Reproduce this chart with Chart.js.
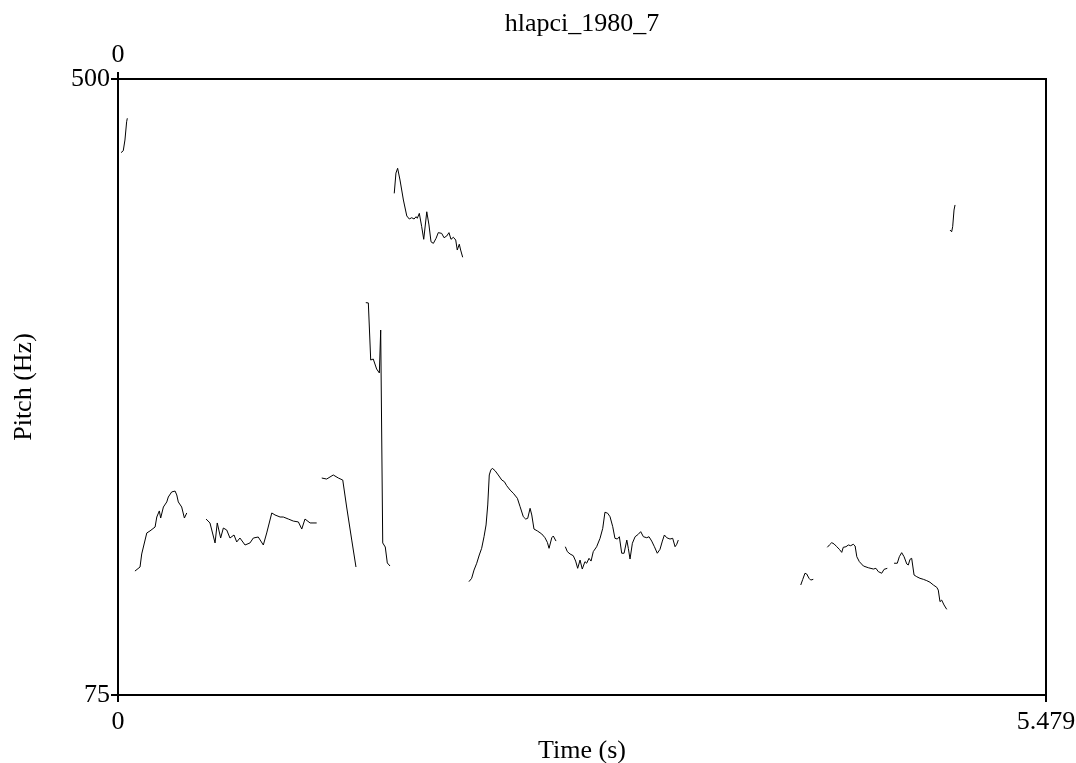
<!DOCTYPE html>
<html>
<head>
<meta charset="utf-8">
<script src="https://cdn.jsdelivr.net/npm/chart.js@4/dist/chart.umd.min.js"></script>
<style>
  html, body { margin: 0; padding: 0; background: #ffffff; overflow: hidden; }
  #wrap { width: 1076px; height: 763px; }
</style>
</head>
<body>
<div id="wrap"><canvas id="pitch" width="1076" height="763"></canvas></div>
<script>
// Labels and axis ranges
const plotTitle = 'hlapci_1980_7';
const xTitle = 'Time (s)';
const yTitle = 'Pitch (Hz)';
const timeRange = [0, 5.479];
const pitchRange = [75, 500];
const xTickValues = [0, 5.479];
const xTickLabels = ['0', '5.479'];
const topTickValues = [0];
const topTickLabels = ['0'];
const yTickValues = [75, 500];
const yTickLabels = ['75', '500'];

// Voiced stretches of the pitch track: [time (s), F0 (Hz)]
const voiced01 = [[0.018, 449.2], [0.031, 450.5], [0.041, 457.9], [0.051, 470.5], [0.055, 472.9]];
const voiced02 = [[0.100, 160.5], [0.130, 163.3], [0.140, 172.3], [0.170, 186.8], [0.189, 188.2], [0.219, 190.9],
  [0.229, 197.8], [0.244, 202.0], [0.252, 197.1], [0.268, 204.7], [0.288, 208.2], [0.297, 211.6], [0.317, 215.1],
  [0.337, 215.7], [0.347, 213.0], [0.356, 208.2], [0.376, 204.7], [0.392, 197.1], [0.406, 200.6]];
const voiced03 = [[0.520, 196.4], [0.543, 193.7], [0.573, 179.9], [0.586, 193.7], [0.606, 183.3], [0.622, 190.2],
  [0.642, 188.8], [0.661, 183.3], [0.685, 185.4], [0.701, 180.6], [0.720, 183.3], [0.750, 178.5], [0.779, 179.9],
  [0.799, 183.3], [0.828, 184.0], [0.858, 178.5], [0.878, 186.8], [0.908, 200.6], [0.927, 199.2], [0.957, 197.8],
  [0.976, 197.8], [1.006, 196.4], [1.035, 195.0], [1.065, 194.4], [1.085, 189.5], [1.104, 196.4], [1.134, 193.7],
  [1.173, 193.7]];
const voiced04 = [[1.203, 224.7], [1.232, 224.0], [1.271, 226.8], [1.301, 224.7], [1.327, 223.3], [1.350, 204.7],
  [1.380, 181.9], [1.405, 163.3]];
const voiced05 = [[1.463, 345.7], [1.478, 345.5], [1.492, 306.1], [1.507, 306.8], [1.527, 299.9], [1.543, 297.2],
  [1.551, 326.8], [1.563, 179.9], [1.578, 177.1], [1.590, 166.1], [1.606, 164.0]];
const voiced06 = [[1.631, 421.1], [1.641, 435.1], [1.651, 438.4], [1.665, 430.3], [1.685, 416.5], [1.705, 405.5],
  [1.720, 403.4], [1.734, 404.3], [1.748, 403.4], [1.760, 405.0], [1.767, 403.9], [1.779, 407.3], [1.793, 398.1],
  [1.805, 389.4], [1.823, 408.4], [1.836, 399.3], [1.848, 387.7], [1.862, 386.6], [1.878, 390.1], [1.891, 394.0],
  [1.911, 393.5], [1.925, 390.5], [1.941, 391.7], [1.954, 394.0], [1.966, 389.4], [1.980, 390.8], [1.994, 388.9],
  [2.003, 382.0], [2.015, 386.0], [2.023, 382.0], [2.035, 377.0]];
const voiced07 = [[2.072, 153.2], [2.088, 155.5], [2.102, 161.2], [2.118, 165.9], [2.133, 171.6], [2.147, 176.2],
  [2.161, 184.2], [2.173, 192.3], [2.183, 206.1], [2.192, 226.8], [2.201, 230.2], [2.210, 231.4], [2.226, 229.8],
  [2.245, 226.8], [2.266, 223.3], [2.281, 222.2], [2.295, 219.4], [2.315, 216.4], [2.334, 214.2], [2.358, 210.7],
  [2.374, 204.9], [2.393, 198.0], [2.407, 196.4], [2.419, 196.9], [2.433, 203.8], [2.443, 199.2], [2.456, 189.5],
  [2.476, 188.2], [2.502, 186.1], [2.521, 183.5], [2.535, 180.3], [2.545, 176.2], [2.561, 183.5], [2.570, 184.7],
  [2.586, 181.2]];
const voiced08 = [[2.641, 177.3], [2.653, 173.9], [2.669, 172.3], [2.688, 171.1], [2.702, 167.4], [2.714, 162.4],
  [2.728, 168.1], [2.741, 161.9], [2.757, 167.0], [2.767, 165.9], [2.781, 169.3], [2.793, 167.4], [2.806, 173.9],
  [2.826, 177.3], [2.846, 183.1], [2.862, 190.0], [2.875, 201.1], [2.891, 200.4], [2.905, 198.0], [2.921, 191.1],
  [2.934, 183.1], [2.948, 182.6], [2.960, 184.2], [2.974, 172.8], [2.988, 172.8], [3.004, 181.9], [3.013, 176.2],
  [3.023, 168.8], [3.037, 179.7], [3.053, 184.2], [3.072, 185.9], [3.086, 187.7], [3.102, 184.2], [3.122, 183.5],
  [3.135, 184.2], [3.151, 181.2], [3.167, 177.3], [3.184, 172.8], [3.200, 175.5], [3.214, 181.2], [3.226, 185.4],
  [3.240, 183.5], [3.259, 182.6], [3.275, 183.1], [3.289, 177.3], [3.299, 179.0], [3.308, 181.9]];
const voiced09 = [[4.031, 150.9], [4.043, 154.8], [4.056, 159.0], [4.066, 158.5], [4.080, 155.5], [4.090, 154.3],
  [4.105, 154.8]];
const voiced10 = [[4.188, 176.9], [4.200, 178.5], [4.214, 180.1], [4.228, 179.2], [4.244, 177.3], [4.259, 175.5],
  [4.273, 173.4], [4.282, 176.9], [4.298, 177.3], [4.312, 178.5], [4.326, 178.0], [4.341, 179.0], [4.352, 177.8],
  [4.362, 170.4], [4.377, 167.0], [4.401, 164.0], [4.430, 162.8], [4.460, 161.9], [4.475, 162.4], [4.489, 160.1],
  [4.509, 159.0], [4.523, 161.7], [4.542, 162.4]];
const voiced11 = [[4.582, 165.9], [4.601, 165.9], [4.613, 170.4], [4.627, 173.2], [4.641, 170.4], [4.657, 165.4],
  [4.666, 164.7], [4.676, 168.6], [4.686, 169.3], [4.700, 157.8], [4.716, 156.6], [4.735, 155.5], [4.755, 154.8],
  [4.775, 153.9], [4.794, 152.8], [4.814, 150.9], [4.834, 149.3], [4.843, 147.4], [4.853, 139.4], [4.863, 140.5],
  [4.877, 137.1], [4.893, 134.1]];
const voiced12 = [[4.912, 395.8], [4.922, 394.6], [4.928, 398.1], [4.936, 409.6], [4.942, 413.1]];

const voicedStretches = [voiced01, voiced02, voiced03, voiced04, voiced05, voiced06,
  voiced07, voiced08, voiced09, voiced10, voiced11, voiced12];

// Layout of the drawing frame (pixels)
const FRAME = { left: 118, right: 30, top: 79, bottom: 68 };
const SERIF = '"Liberation Serif", "Times New Roman", Times, serif';
const labelFont = { family: SERIF, size: 26, lineHeight: 1.2 };
const INK = '#000000';

const tickMarks = {
  display: true, drawOnChartArea: false, drawTicks: true,
  tickLength: 7, tickWidth: 2, tickColor: INK, color: INK, lineWidth: 2
};
const frameLine = { display: true, color: INK, width: 2 };

// Fixed box size for a horizontal axis; end labels may hang past the frame
const fixHeight = h => s => { s.height = h; s.paddingLeft = 0; s.paddingRight = 0; };

new Chart(document.getElementById('pitch').getContext('2d'), {
  type: 'scatter',
  data: {
    datasets: voicedStretches.map(seg => ({
      data: seg.map(([t, f]) => ({ x: t, y: f })),
      showLine: true,
      borderColor: INK,
      borderWidth: 1,
      pointRadius: 0,
      pointHoverRadius: 0,
      tension: 0,
      fill: false
    }))
  },
  options: {
    responsive: false,
    animation: false,
    events: [],
    layout: { padding: 0 },
    plugins: {
      legend: { display: false },
      tooltip: { enabled: false },
      title: { display: false }
    },
    scales: {
      x: {
        type: 'linear', position: 'bottom',
        min: timeRange[0], max: timeRange[1],
        afterFit: fixHeight(FRAME.bottom),
        afterBuildTicks: s => { s.ticks = xTickValues.map(v => ({ value: v })); },
        ticks: { autoSkip: false, maxRotation: 0, minRotation: 0, padding: 5, color: INK, font: labelFont,
                 callback: (v, i) => xTickLabels[i] },
        grid: tickMarks,
        border: frameLine,
        title: { display: true, text: xTitle, color: INK, font: { family: SERIF, size: 26, lineHeight: 0.9 }, padding: 0 }
      },
      x2: {
        type: 'linear', position: 'top',
        min: timeRange[0], max: timeRange[1],
        afterFit: fixHeight(FRAME.top),
        afterBuildTicks: s => { s.ticks = topTickValues.map(v => ({ value: v })); },
        ticks: { autoSkip: false, maxRotation: 0, minRotation: 0, padding: 1.5, color: INK, font: labelFont,
                 callback: (v, i) => topTickLabels[i] },
        grid: tickMarks,
        border: frameLine,
        title: { display: true, text: plotTitle, color: INK, font: labelFont, padding: { top: 9, bottom: 0 } }
      },
      y: {
        type: 'linear', position: 'left',
        min: pitchRange[0], max: pitchRange[1],
        afterFit: s => { s.width = FRAME.left; },
        afterBuildTicks: s => { s.ticks = yTickValues.map(v => ({ value: v })); },
        ticks: { autoSkip: false, padding: 1, color: INK, font: labelFont,
                 callback: (v, i) => yTickLabels[i] },
        grid: tickMarks,
        border: frameLine,
        title: { display: true, text: yTitle, color: INK, font: labelFont, padding: { top: 9, bottom: 0 } }
      },
      y2: {
        type: 'linear', position: 'right',
        min: pitchRange[0], max: pitchRange[1],
        afterFit: s => { s.width = FRAME.right; },
        ticks: { display: false },
        grid: { display: false },
        border: frameLine
      }
    }
  }
});
</script>
</body>
</html>
